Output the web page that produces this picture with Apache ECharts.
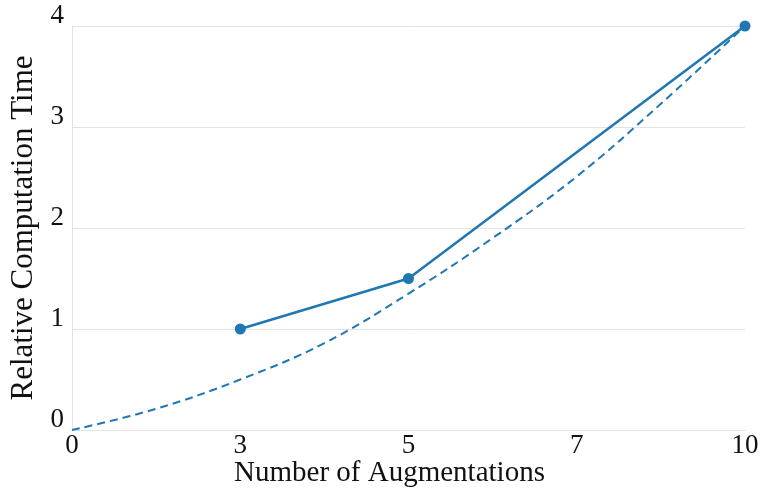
<!DOCTYPE html>
<html><head><meta charset="utf-8">
<script src="https://cdn.jsdelivr.net/npm/echarts@6/dist/echarts.min.js"></script>
<style>html,body{margin:0;padding:0;background:#fff}#c{width:762px;height:494px}</style>
</head><body><div id="c"></div>
<script>
const tickLabels = ['0', '3', '5', '7', '10'];
const measuredPos = [1, 2, 4];
const measuredTime = [1, 1.5, 4];
const refPos = [0, 0.5, 1, 1.5, 2, 2.5, 3, 3.5, 4];
const refTime = [0, 0.21, 0.50, 0.86, 1.35, 1.90, 2.51, 3.23, 4.0];
const yTicks = [0, 1, 2, 3, 4];

const font = '"Liberation Serif", "DejaVu Serif", serif';
const blue = '#1f77b4';
const chart = echarts.init(document.getElementById('c'));
chart.setOption({
  animation: false,
  grid: {left: 72, right: 17, top: 26, bottom: 64, containLabel: false, outerBoundsMode: 'none'},
  xAxis: {
    type: 'value', min: 0, max: tickLabels.length - 1, interval: 1,
    name: 'Number of Augmentations', nameLocation: 'middle', nameGap: 29, nameMoveOverlap: false,
    nameTextStyle: {fontFamily: font, fontSize: 29, color: '#111', padding: [0, 38, 0, 0]},
    axisLine: {show: true, lineStyle: {color: '#e3e3e3', width: 1}},
    axisTick: {show: false},
    splitLine: {show: false},
    axisLabel: {fontFamily: font, fontSize: 27, color: '#111', margin: 2,
      formatter: v => tickLabels[Math.round(v)]}
  },
  yAxis: {
    type: 'value', min: yTicks[0], max: yTicks[yTicks.length - 1], interval: 1,
    name: 'Relative Computation Time', nameLocation: 'middle', nameGap: 33,
    nameTextStyle: {fontFamily: font, fontSize: 31, color: '#111'},
    axisLine: {show: true, lineStyle: {color: '#e3e3e3', width: 1}},
    axisTick: {show: false},
    splitLine: {show: true, lineStyle: {color: '#e3e3e3', width: 1}},
    axisLabel: {fontFamily: font, fontSize: 27, lineHeight: 21, color: '#111', margin: 8, verticalAlign: 'bottom'}
  },
  series: [
    {
      type: 'line', data: refPos.map((p, i) => [p, refTime[i]]), smooth: 0.4,
      showSymbol: false, lineStyle: {color: blue, width: 2, type: [8, 5]}, z: 2
    },
    {
      type: 'line', data: measuredPos.map((p, i) => [p, measuredTime[i]]),
      symbol: 'circle', symbolSize: 11, itemStyle: {color: blue},
      lineStyle: {color: blue, width: 2.5}, z: 3
    }
  ]
});
</script></body></html>
